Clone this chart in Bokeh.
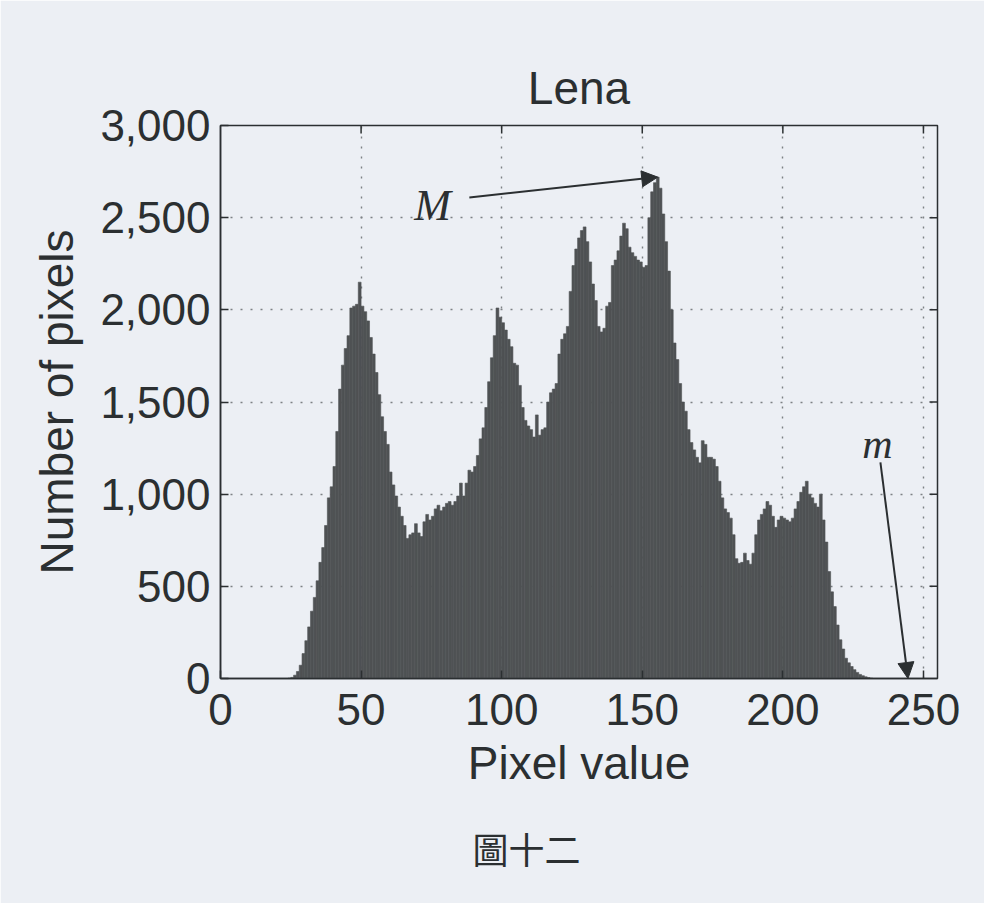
import numpy as np
from bokeh.plotting import figure
from bokeh.models import (Range1d, FixedTicker, NumeralTickFormatter,
                          Arrow, NormalHead, Label, Title)
from bokeh.embed import file_html
from bokeh.resources import INLINE

# ---------------- data ----------------
pixel_values = list(range(256))
counts = (
    [0] * 24 +
    [2, 6, 18, 38, 72, 135, 205, 280, 365, 440, 530, 630, 710, 830, 980, 1040,      # 24-39
     1150, 1340, 1570, 1700, 1790, 1860, 2010, 2020, 2030, 2150,                     # 40-49
     2020, 1990, 1940, 1850, 1760, 1660, 1540, 1420, 1340, 1270,                     # 50-59
     1120, 1050, 990, 930, 880, 830, 760, 780, 790, 840,                             # 60-69
     790, 770, 850, 890, 860, 880, 920, 940, 910, 930,                               # 70-79
     950, 960, 940, 960, 990, 1060, 990, 1060, 1130, 1120,                           # 80-89
     1150, 1210, 1300, 1360, 1470, 1610, 1740, 1860, 2010, 1960,                     # 90-99
     1930, 1890, 1840, 1800, 1710, 1700, 1590, 1470, 1400, 1370,                     # 100-109
     1350, 1310, 1430, 1320, 1350, 1360, 1500, 1550, 1570, 1600,                     # 110-119
     1760, 1840, 1870, 1910, 2100, 2240, 2330, 2390, 2430, 2450,                     # 120-129
     2370, 2260, 2140, 2050, 1910, 1880, 1900, 2020, 2040, 2240,                     # 130-139
     2270, 2320, 2400, 2470, 2440, 2340, 2310, 2290, 2270, 2260,                     # 140-149
     2230, 2240, 2500, 2640, 2690, 2720, 2660, 2520, 2370, 2210,                     # 150-159
     2000, 1820, 1730, 1600, 1500, 1450, 1350, 1280, 1240, 1200,                     # 160-169
     1170, 1290, 1270, 1200, 1200, 1190, 1150, 1070, 980, 920,                       # 170-179
     900, 870, 780, 650, 625, 630, 680, 640, 620, 680,                               # 180-189
     780, 860, 890, 920, 960, 940, 880, 820, 860, 880,                               # 190-199
     870, 860, 850, 870, 920, 960, 1010, 1040, 1070, 1000,                           # 200-209
     980, 950, 930, 1000, 860, 740, 580, 470, 390, 290,                              # 210-219
     210, 160, 110, 85, 65, 48, 33, 22, 15, 9,                                       # 220-229
     5, 2] +                                                                          # 230-231
    [0] * 24
)
x_ticks = [0, 50, 100, 150, 200, 250]
y_ticks = [0, 500, 1000, 1500, 2000, 2500, 3000]
title_text = "Lena"
x_label = "Pixel value"
y_label = "Number of pixels"
caption_text = "圖十二"
max_label = "M"
min_label = "m"
min_point_value = 244.5          # pixel value pointed at by the "m" arrow

# ---------------- style ----------------
BG = "#eceff4"
BAR = "#4f5254"
INK = "#2b2f31"
FONT = "Liberation Sans"

edges = np.arange(len(counts) + 1)
X_MAX, Y_MAX = 255, 3000

p = figure(width=984, height=903, output_backend="svg", toolbar_location=None,
           x_range=Range1d(0, X_MAX), y_range=Range1d(0, Y_MAX),
           min_border_left=220, min_border_right=47,
           min_border_top=125, min_border_bottom=225,
           background_fill_color=BG, border_fill_color=BG,
           outline_line_color=INK, outline_line_width=1.5,
           title=title_text)

p.title.align = "center"
p.title.text_font = FONT
p.title.text_font_size = "46px"
p.title.text_font_style = "normal"
p.title.text_color = INK
p.title.standoff = 24

p.quad(left=edges[:-1], right=edges[1:], bottom=0, top=counts,
       fill_color=BAR, line_color=BAR, line_width=0.6)

# main axes
for ax in (p.xaxis[0], p.yaxis[0]):
    ax.major_label_text_font = FONT
    ax.major_label_text_font_size = "44px"
    ax.major_label_text_color = INK
    ax.axis_label_text_font = FONT
    ax.axis_label_text_font_size = "46px"
    ax.axis_label_text_font_style = "normal"
    ax.axis_label_text_color = INK
    ax.major_tick_in = 8
    ax.major_tick_out = 0
    ax.major_tick_line_color = INK
    ax.major_tick_line_width = 1.5
    ax.minor_tick_line_color = None
    ax.axis_line_color = INK
    ax.axis_line_width = 1.5

p.xaxis.ticker = FixedTicker(ticks=x_ticks)
p.yaxis.ticker = FixedTicker(ticks=y_ticks)
p.yaxis.formatter = NumeralTickFormatter(format="0,0")
p.xaxis.axis_label = x_label
p.yaxis.axis_label = y_label
p.xaxis.major_label_standoff = 15
p.yaxis.major_label_standoff = 10
p.xaxis.axis_label_standoff = 9
p.yaxis.axis_label_standoff = 14

# inward box ticks on the right and top edges (half of each dash is clipped by the frame)
p.scatter(x=[X_MAX] * len(y_ticks[1:-1]), y=y_ticks[1:-1], marker="dash", size=16,
          line_color=INK, line_width=1.5)
p.scatter(x=x_ticks[1:], y=[Y_MAX] * len(x_ticks[1:]), marker="dash", size=16,
          angle=np.pi / 2, line_color=INK, line_width=1.5)

# dotted grid
p.xgrid.ticker = FixedTicker(ticks=x_ticks[1:])
p.ygrid.ticker = FixedTicker(ticks=y_ticks[1:-1])
for g in (p.xgrid[0], p.ygrid[0]):
    g.grid_line_color = "#7d8184"
    g.grid_line_dash = "2 8"
    g.grid_line_width = 1.4

# annotations
peak_idx = int(np.argmax(counts))
peak_x = (edges[peak_idx] + edges[peak_idx + 1]) / 2
peak_y = counts[peak_idx]

p.add_layout(Arrow(end=NormalHead(size=16, fill_color=INK, line_color=INK),
                   x_start=88.5, y_start=2610, x_end=peak_x, y_end=peak_y,
                   line_color=INK, line_width=2))
p.add_layout(Label(x=75.4, y=2566, text=max_label, text_font="Liberation Serif",
                   text_font_style="italic", text_font_size="44px", text_color=INK,
                   text_align="center", text_baseline="middle"))

p.add_layout(Arrow(end=NormalHead(size=16, fill_color=INK, line_color=INK),
                   x_start=234.7, y_start=1172, x_end=min_point_value, y_end=0,
                   line_color=INK, line_width=2))
p.add_layout(Label(x=233.6, y=1270, text=min_label, text_font="Liberation Serif",
                   text_font_style="italic", text_font_size="42px", text_color=INK,
                   text_align="center", text_baseline="middle"))

# figure caption below the x axis
caption = Title(text=caption_text, align="left", offset=252, standoff=56,
                vertical_align="bottom", text_font="Noto Sans CJK TC",
                text_font_size="36px", text_font_style="normal", text_color=INK)
p.add_layout(caption, "below")

open("out.html", "w").write(file_html(p, INLINE))
